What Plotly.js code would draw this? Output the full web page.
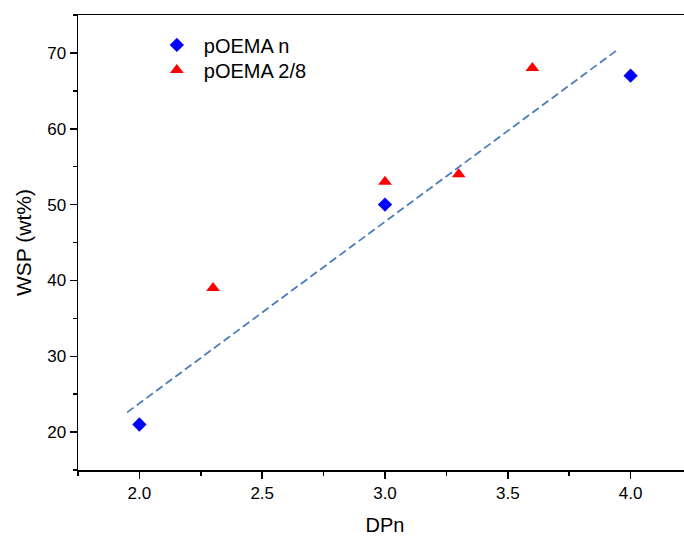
<!DOCTYPE html>
<html>
<head>
<meta charset="utf-8">
<script src="https://cdn.plot.ly/plotly-3.0.1.min.js"></script>
<style>
html, body { margin: 0; padding: 0; overflow: hidden; background: #fff; }
#chart { width: 720px; height: 536px; }
</style>
</head>
<body>
<div id="chart"></div>
<script>
// Data
const nX = [2.0, 3.0, 4.0];
const nY = [21, 50, 67];
const ratioX = [2.3, 3.0, 3.3, 3.6];
const ratioY = [39, 53, 54, 68];
const fitX = [1.95, 3.95];
const fitY = [22.6, 70.5];
const seriesNames = ['pOEMA n', 'pOEMA 2/8'];

const font = 'Liberation Sans, Arial, sans-serif';

const traces = [
  {
    x: fitX, y: fitY, mode: 'lines', type: 'scatter',
    line: {color: '#4a7ebb', width: 1.8, dash: '8px,4px'},
    showlegend: false, hoverinfo: 'skip'
  },
  {
    x: nX, y: nY, mode: 'markers', type: 'scatter', name: seriesNames[0],
    marker: {symbol: 'diamond', size: 11, color: '#0000ff'},
    legend: 'legend'
  },
  {
    x: ratioX, y: ratioY, mode: 'markers', type: 'scatter', name: seriesNames[1],
    marker: {symbol: 'triangle-up', size: 12, color: '#ff0000'},
    legend: 'legend2'
  }
];

const legendBase = {
  xanchor: 'left', yanchor: 'top',
  bgcolor: 'rgba(0,0,0,0)', font: {size: 20, family: font},
  itemwidth: 44
};

const layout = {
  width: 720, height: 536,
  margin: {l: 78, r: 28, t: 15, b: 66},
  paper_bgcolor: '#ffffff', plot_bgcolor: '#ffffff',
  font: {family: font, color: '#000', size: 17},
  showlegend: true,
  legend: Object.assign({}, legendBase, {x: 0.117, y: 0.977}),
  legend2: Object.assign({}, legendBase, {x: 0.117, y: 0.922}),
  xaxis: {
    range: [1.75, 4.25], tick0: 2, dtick: 0.5, tickformat: '.1f',
    showgrid: false, zeroline: false,
    showline: true, linecolor: '#000', linewidth: 1.5, mirror: true,
    ticks: 'outside', ticklen: 7, tickwidth: 1.5, tickcolor: '#000',
    minor: {dtick: 0.25, tick0: 2, ticks: 'outside', ticklen: 4, tickwidth: 1.5, tickcolor: '#000', showgrid: false},
    tickfont: {size: 17, family: font},
    title: {text: 'DPn', font: {size: 20, family: font}, standoff: 19},
    automargin: false
  },
  yaxis: {
    range: [15, 75], tick0: 20, dtick: 10,
    showgrid: false, zeroline: false,
    showline: true, linecolor: '#000', linewidth: 1.5, mirror: true,
    ticks: 'outside', ticklen: 7, tickwidth: 1.5, tickcolor: '#000',
    minor: {dtick: 5, tick0: 15, ticks: 'outside', ticklen: 4, tickwidth: 1.5, tickcolor: '#000', showgrid: false},
    tickfont: {size: 17, family: font},
    title: {text: 'WSP (wt%)', font: {size: 21, family: font}, standoff: 10},
    automargin: false
  }
};

Plotly.newPlot('chart', traces, layout, {displayModeBar: false, staticPlot: true});
</script>
</body>
</html>
